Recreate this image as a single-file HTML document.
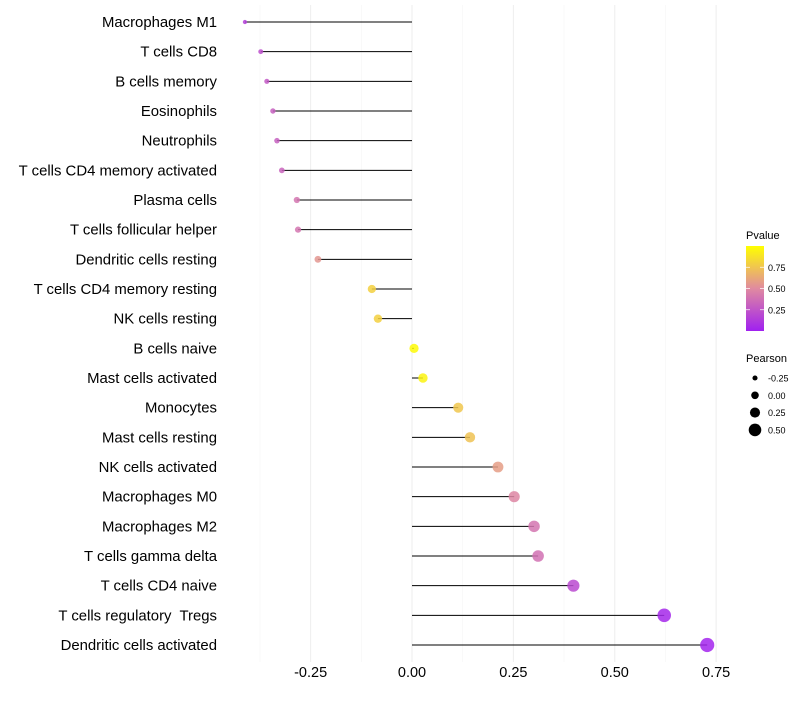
<!DOCTYPE html>
<html><head><meta charset="utf-8"><style>
body{margin:0;background:#fff;font-family:"Liberation Sans",sans-serif}
text{white-space:pre}
</style></head><body>
<svg id="c" width="800" height="700" xmlns="http://www.w3.org/2000/svg"></svg>
<script>
const categories=["Macrophages M1","T cells CD8","B cells memory","Eosinophils","Neutrophils","T cells CD4 memory activated","Plasma cells","T cells follicular helper","Dendritic cells resting","T cells CD4 memory resting","NK cells resting","B cells naive","Mast cells activated","Monocytes","Mast cells resting","NK cells activated","Macrophages M0","Macrophages M2","T cells gamma delta","T cells CD4 naive","T cells regulatory  Tregs","Dendritic cells activated"];
const pearson=[-0.412,-0.373,-0.358,-0.343,-0.333,-0.321,-0.284,-0.281,-0.232,-0.099,-0.084,0.005,0.027,0.114,0.143,0.212,0.252,0.301,0.311,0.398,0.622,0.728];
const pvalues=[0.15,0.22,0.27,0.3,0.3,0.32,0.4,0.4,0.55,0.8,0.8,0.98,0.95,0.76,0.74,0.58,0.48,0.4,0.38,0.2,0.04,0.02];
const xTicks=[-0.25,0,0.25,0.5,0.75];
const xTickLabels=["-0.25","0.00","0.25","0.50","0.75"];
const xMinor=[-0.375,-0.125,0.125,0.375,0.625];
const legendP=[0.25,0.5,0.75];
const legendPLabels=["0.25","0.50","0.75"];
const legendS=[-0.25,0,0.25,0.5];
const legendSLabels=["-0.25","0.00","0.25","0.50"];

const svg=document.getElementById('c');
const NS="http://www.w3.org/2000/svg";
const x=v=>412+v*405.5;
const y=i=>22+i*(623/21);
const rad=v=>Math.sqrt(Math.max(2.5,21+40*v));
function col(p){
  const stops=[[0,[160,32,240]],[0.5,[224,138,160]],[1,[255,255,0]]];
  let a=stops[0],b=stops[1];if(p>0.5){a=stops[1];b=stops[2];}
  const t=(p-a[0])/(b[0]-a[0]);
  const c=a[1].map((v,k)=>Math.round(v+(b[1][k]-v)*t));
  return `rgb(${c[0]},${c[1]},${c[2]})`;
}
function mk(tag,attrs,parent){const e=document.createElementNS(NS,tag);for(const k in attrs)e.setAttribute(k,attrs[k]);(parent||svg).appendChild(e);return e;}

xMinor.forEach(v=>{
  const l=mk('line',{x1:x(v),x2:x(v),y1:5,y2:662,stroke:'#f5f5f5','stroke-width':0.6});
  
  
});
xTicks.forEach((v,i)=>{
  const l=mk('line',{x1:x(v),x2:x(v),y1:5,y2:662,stroke:'#eeeeee','stroke-width':1});
  
  
  const t=mk('text',{x:x(v),y:677,'text-anchor':'middle','font-size':14.5,fill:'#000'});
  t.textContent=xTickLabels[i];
  
  
});
categories.forEach((c,i)=>{
  const yy=y(i);
  const t=mk('text',{x:217,y:yy+5,'text-anchor':'end','font-size':14.9,fill:'#000'});
  t.textContent=c;
  
  
  const ln=mk('line',{x1:x(0),x2:x(pearson[i]),y1:yy,y2:yy,stroke:'#000','stroke-width':1});
  
  
  const p=mk('circle',{cx:x(pearson[i]),cy:yy,r:rad(pearson[i]),fill:col(pvalues[i]),'fill-opacity':0.85});
  
  
});
const lt=mk('text',{x:746,y:239,'font-size':11,fill:'#000'});lt.textContent='Pvalue';


const defs=mk('defs',{});
const g=mk('linearGradient',{id:'pg',x1:0,y1:1,x2:0,y2:0},defs);
[0,0.25,0.5,0.75,1].forEach(s=>mk('stop',{offset:s,'stop-color':col(s)},g));
const bar=mk('rect',{x:746,y:246,width:18,height:85,fill:'url(#pg)'});


const py=p=>331-p*85;
legendP.forEach((p,i)=>{
  mk('line',{x1:746,x2:750,y1:py(p),y2:py(p),stroke:'#fff','stroke-width':0.7});
  mk('line',{x1:760,x2:764,y1:py(p),y2:py(p),stroke:'#fff','stroke-width':0.7});
  const t=mk('text',{x:768,y:py(p)+3.5,'font-size':9,fill:'#000'});t.textContent=legendPLabels[i];
  
  
});
const st=mk('text',{x:746,y:362,'font-size':11,fill:'#000'});st.textContent='Pearson';


legendS.forEach((v,i)=>{
  const yy=378+i*17.3;
  const c=mk('circle',{cx:755,cy:yy,r:3.8+v*5,fill:'#000'});
  
  
  const t=mk('text',{x:768,y:yy+3.5,'font-size':9,fill:'#000'});t.textContent=legendSLabels[i];
  
  
});
</script>
</body></html>
